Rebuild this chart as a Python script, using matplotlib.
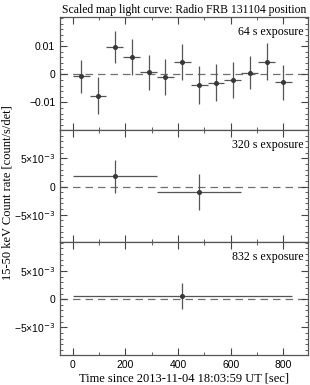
import numpy as np
import matplotlib.pyplot as plt
from matplotlib.ticker import MultipleLocator, FixedLocator

# 64 s bins
t64 = [32, 96, 160, 224, 288, 352, 416, 480, 544, 608, 672, 736, 800]
rate64 = [-0.0007, -0.0076, 0.0098, 0.0062, 0.0007, -0.0010, 0.0044,
          -0.0038, -0.0030, -0.0019, 0.0006, 0.0045, -0.0029]
err64 = [0.0058, 0.0065, 0.0057, 0.0063, 0.0063, 0.0063, 0.0064,
         0.0068, 0.0066, 0.0064, 0.0060, 0.0065, 0.0062]

# 320 s bins
t320 = [160, 480]
rate320 = [0.0018, -0.0010]
err320 = [0.0029, 0.0032]

# 832 s bin
t832 = [416]
rate832 = [0.0006]
err832 = [0.0023]

ticks_top = [-0.01, 0, 0.01]
labels_top = ["\u22120.01", "0", "0.01"]
ticks_low = [-0.005, 0, 0.005]
labels_low = ["\u22125\u00d710$^{-3}$", "0", "5\u00d710$^{-3}$"]

panels = [
    (t64, rate64, err64, 32, "64 s exposure", (-0.0197, 0.0204),
     ticks_top, labels_top, 0.002),
    (t320, rate320, err320, 160, "320 s exposure", (-0.0099, 0.0101),
     ticks_low, labels_low, 0.001),
    (t832, rate832, err832, 416, "832 s exposure", (-0.0099, 0.0101),
     ticks_low, labels_low, 0.001),
]

serif = ["Liberation Serif", "DejaVu Serif"]
plt.rcParams["font.family"] = ["Liberation Sans", "DejaVu Sans"]

fig, axes = plt.subplots(3, 1, figsize=(3.1, 3.85), dpi=100, sharex=True)
fig.subplots_adjust(left=0.194, right=0.994, top=0.956, bottom=0.078, hspace=0)

for ax, (t, r, e, hw, label, lims, yt, yl, minor) in zip(axes, panels):
    ax.axhline(0, color="#707070", lw=0.9, ls=(0, (6, 4)), zorder=1)
    ax.errorbar(t, r, yerr=e, xerr=hw, fmt="o", ms=2.6, color="#383838",
                ecolor="#555555", elinewidth=0.9, capsize=0, zorder=3)
    ax.set_xlim(-48, 894)
    ax.set_ylim(*lims)
    ax.yaxis.set_major_locator(FixedLocator(yt))
    ax.set_yticklabels(yl)
    ax.yaxis.set_minor_locator(MultipleLocator(minor))
    ax.xaxis.set_major_locator(MultipleLocator(200))
    ax.xaxis.set_minor_locator(MultipleLocator(100))
    ax.tick_params(which="both", direction="in", top=True, right=True,
                   labelsize=7.5, color="#444444")
    ax.tick_params(which="major", length=5)
    ax.tick_params(which="minor", length=2.5)
    for s in ax.spines.values():
        s.set_color("#555555")
        s.set_linewidth(0.9)
    ax.text(0.98, 0.92, label, transform=ax.transAxes, ha="right", va="top",
            fontsize=8.6, family=serif)

axes[0].set_title("Scaled map light curve: Radio FRB 131104 position",
                  fontsize=8.4, family=serif, pad=3)
axes[2].set_xlabel("Time since 2013-11-04 18:03:59 UT [sec]", fontsize=9,
                   family=serif, labelpad=2)
fig.text(0.025, 0.5, "15-50 keV Count rate [count/s/det]", rotation=90,
         ha="center", va="center", fontsize=9, family=serif)

fig.savefig("out.png", dpi=100)
